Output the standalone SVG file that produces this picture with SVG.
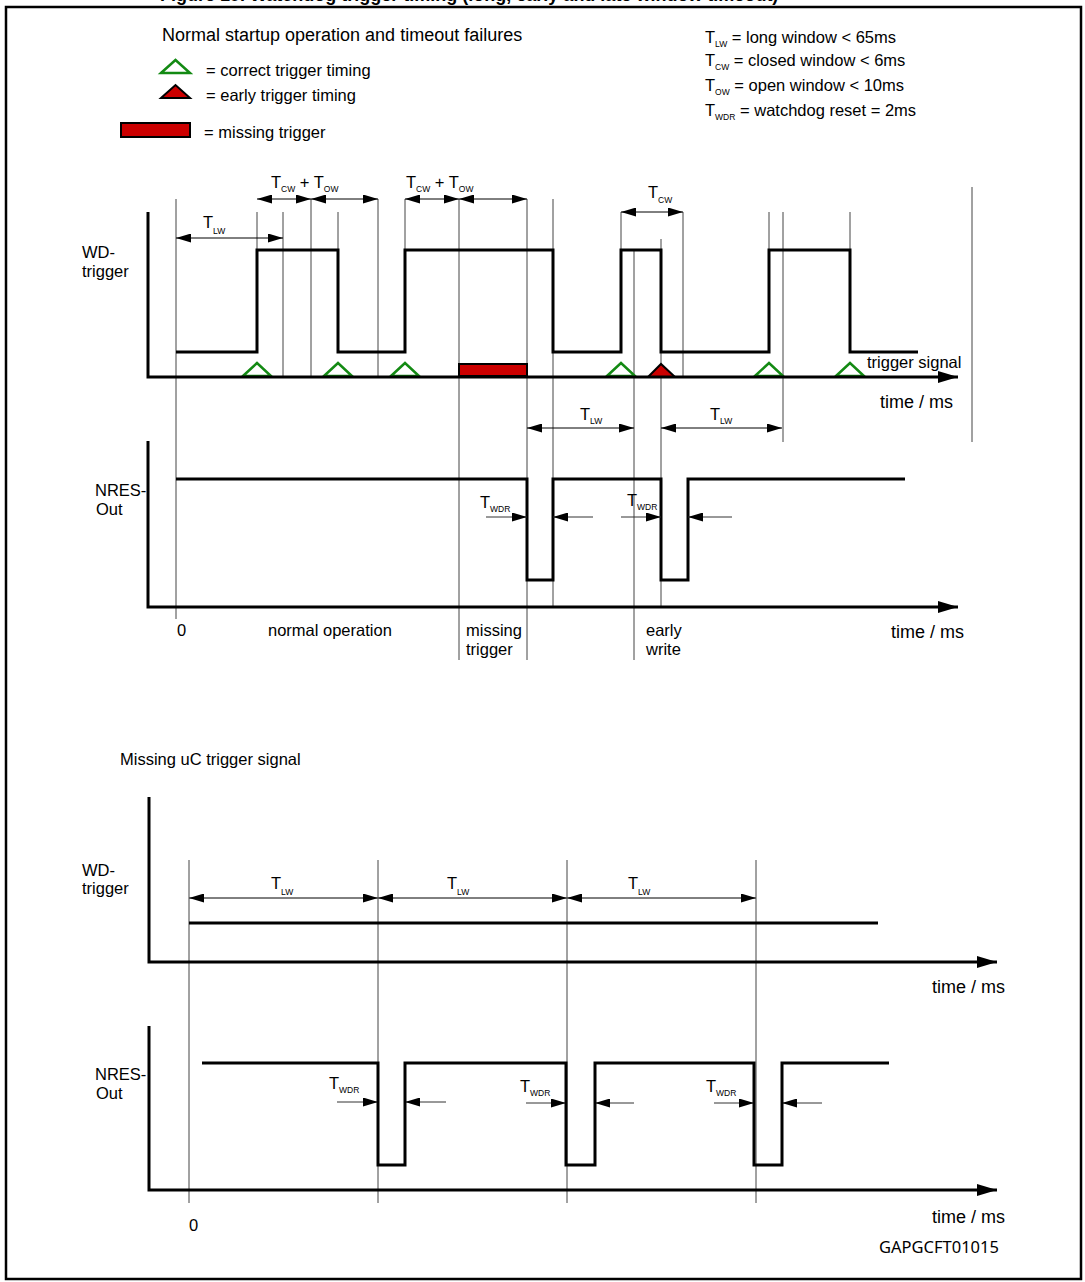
<svg xmlns="http://www.w3.org/2000/svg" width="1085" height="1282" viewBox="0 0 1085 1282">
<style>
text{font-family:"Liberation Sans",Arial,sans-serif;fill:#000}
.t{font-size:16.5px}
.big{font-size:18px}
.sub{font-size:8.5px}
.tm{font-size:18px}
.id{font-family:"Noto Sans","Liberation Sans",sans-serif;font-size:16.5px}
.ttl{font-size:18px;font-weight:bold}
.wave{fill:none;stroke:#000;stroke-width:3}
.axis{fill:none;stroke:#000;stroke-width:3;marker-end:url(#ax)}
.thin{stroke:#444;stroke-width:1}
.dim{stroke:#000;stroke-width:1;marker-start:url(#ah);marker-end:url(#ah)}
.one{stroke:#333;stroke-width:1;marker-end:url(#ah)}
.ok{fill:#fff;stroke:#138a13;stroke-width:2.5}
.early{fill:#cc0000;stroke:#000;stroke-width:2}
.miss{fill:#cc0000;stroke:#000;stroke-width:2}
</style>
<defs>
<marker id="ah" viewBox="0 0 15 9" refX="15" refY="4.5" markerWidth="15" markerHeight="9" markerUnits="userSpaceOnUse" orient="auto-start-reverse"><path d="M0,0 L15,4.5 L0,9 Z" fill="#000"/></marker>
<marker id="ax" viewBox="0 0 20 12" refX="20" refY="6" markerWidth="20" markerHeight="12" markerUnits="userSpaceOnUse" orient="auto"><path d="M0,0 L20,6 L0,12 Z" fill="#000"/></marker>
</defs>
<rect width="1085" height="1282" fill="#fff"/>
<text class="ttl" x="160" y="1">Figure 19. Watchdog trigger timing (long, early and late window timeout)</text>
<rect x="6" y="7" width="1075" height="1272" fill="none" stroke="#000" stroke-width="2.5"/>

<g id="legend">
<text class="big" x="162" y="41">Normal startup operation and timeout failures</text>
<polygon class="ok" points="161,73 175.5,60 190,73"/>
<text class="t" x="206" y="76">= correct trigger timing</text>
<polygon class="early" points="161,98 175.5,85 190,98" stroke-width="2.5"/>
<text class="t" x="206" y="101">= early trigger timing</text>
<rect class="miss" x="121" y="123" width="69" height="14" stroke-width="2.5"/>
<text class="t" x="204" y="138">= missing trigger</text>
</g>

<g id="definitions">
<text class="t" x="705" y="43">T<tspan class="sub" dy="4">LW</tspan><tspan dy="-4"> =  long window &lt; 65ms</tspan></text>
<text class="t" x="705" y="66">T<tspan class="sub" dy="4">CW</tspan><tspan dy="-4"> = closed window &lt; 6ms</tspan></text>
<text class="t" x="705" y="91">T<tspan class="sub" dy="4">OW</tspan><tspan dy="-4"> = open window &lt; 10ms</tspan></text>
<text class="t" x="705" y="116">T<tspan class="sub" dy="4">WDR</tspan><tspan dy="-4">  = watchdog reset = 2ms</tspan></text>
</g>

<g id="grid-top">
<line class="thin" x1="176" y1="199" x2="176" y2="619"/>
<line class="thin" x1="257" y1="212" x2="257" y2="250"/>
<line class="thin" x1="283" y1="212" x2="283" y2="377"/>
<line class="thin" x1="311" y1="199" x2="311" y2="377"/>
<line class="thin" x1="338" y1="212" x2="338" y2="250"/>
<line class="thin" x1="378" y1="199" x2="378" y2="377"/>
<line class="thin" x1="405" y1="199" x2="405" y2="250"/>
<line class="thin" x1="459" y1="199" x2="459" y2="660"/>
<line class="thin" x1="527" y1="199" x2="527" y2="660"/>
<line class="thin" x1="553" y1="199" x2="553" y2="607"/>
<line class="thin" x1="621" y1="212" x2="621" y2="250"/>
<line class="thin" x1="634" y1="250" x2="634" y2="660"/>
<line class="thin" x1="661" y1="239" x2="661" y2="607"/>
<line class="thin" x1="683" y1="212" x2="683" y2="377"/>
<line class="thin" x1="769" y1="212" x2="769" y2="250"/>
<line class="thin" x1="783" y1="212" x2="783" y2="442"/>
<line class="thin" x1="850" y1="212" x2="850" y2="250"/>
<line class="thin" x1="972" y1="187" x2="972" y2="442"/>
</g>

<g id="wd-trigger-top">
<text class="t" x="82" y="258">WD-</text>
<text class="t" x="82" y="277">trigger</text>
<path class="wave" d="M176,352 H257 V250 H338 V352 H405 V250 H553 V352 H621 V250 H661 V352 H769 V250 H850 V352 H918"/>
<polygon class="ok" points="243,376 257,363 271,376"/>
<polygon class="ok" points="324,376 338,363 352,376"/>
<polygon class="ok" points="391,376 405,363 419,376"/>
<polygon class="ok" points="607,376 621,363 635,376"/>
<polygon class="ok" points="755,376 769,363 783,376"/>
<polygon class="ok" points="836,376 850,363 864,376"/>
<polygon class="early" points="648,377 661,364 675,377"/>
<rect class="miss" x="459" y="364" width="68" height="12"/>
<path class="axis" d="M148,212 V377 H958"/>
<text class="t" x="867" y="368">trigger signal</text>
<text class="tm" x="880" y="408">time / ms</text>
</g>

<g id="nres-top">
<text class="t" x="95" y="496">NRES-</text>
<text class="t" x="96" y="515">Out</text>
<path class="wave" d="M176,479 H527 V580 H553 V479 H661 V580 H688 V479 H905"/>
<path class="axis" d="M148,441 V607 H958"/>
<text class="t" x="177" y="636">0</text>
<text class="t" x="268" y="636">normal operation</text>
<text class="t" x="466" y="636">missing</text>
<text class="t" x="466" y="655">trigger</text>
<text class="t" x="646" y="636">early</text>
<text class="t" x="646" y="655">write</text>
<text class="tm" x="891" y="638">time / ms</text>
</g>

<g id="connectors">
<line class="dim" x1="176" y1="238" x2="283" y2="238"/>
<line class="dim" x1="257" y1="199" x2="311" y2="199"/>
<line class="dim" x1="311" y1="199" x2="378" y2="199"/>
<line class="dim" x1="405" y1="199" x2="459" y2="199"/>
<line class="dim" x1="459" y1="199" x2="527" y2="199"/>
<line class="dim" x1="621" y1="212" x2="683" y2="212"/>
<line class="dim" x1="527" y1="428" x2="634" y2="428"/>
<line class="dim" x1="661" y1="428" x2="782" y2="428"/>
<line class="one" x1="486" y1="517" x2="527" y2="517"/>
<line class="one" x1="593" y1="517" x2="553" y2="517"/>
<line class="one" x1="621" y1="517" x2="661" y2="517"/>
<line class="one" x1="732" y1="517" x2="688" y2="517"/>
<line class="dim" x1="189" y1="898" x2="378" y2="898"/>
<line class="dim" x1="378" y1="898" x2="567" y2="898"/>
<line class="dim" x1="567" y1="898" x2="756" y2="898"/>
<line class="one" x1="337" y1="1102" x2="378" y2="1102"/>
<line class="one" x1="446" y1="1102" x2="405" y2="1102"/>
<line class="one" x1="526" y1="1103" x2="566" y2="1103"/>
<line class="one" x1="634" y1="1103" x2="595" y2="1103"/>
<line class="one" x1="714" y1="1103" x2="754" y2="1103"/>
<line class="one" x1="822" y1="1103" x2="782" y2="1103"/>
</g>

<g id="labels-dim">
<text class="t" x="203" y="228">T<tspan class="sub" dy="6">LW</tspan></text>
<text class="t" x="271" y="188">T<tspan class="sub" dy="4">CW</tspan><tspan dy="-4"> + T</tspan><tspan class="sub" dy="4">OW</tspan></text>
<text class="t" x="406" y="188">T<tspan class="sub" dy="4">CW</tspan><tspan dy="-4"> + T</tspan><tspan class="sub" dy="4">OW</tspan></text>
<text class="t" x="648" y="198">T<tspan class="sub" dy="5">CW</tspan></text>
<text class="t" x="580" y="420">T<tspan class="sub" dy="4">LW</tspan></text>
<text class="t" x="710" y="420">T<tspan class="sub" dy="4">LW</tspan></text>
<text class="t" x="480" y="508">T<tspan class="sub" dy="4">WDR</tspan></text>
<text class="t" x="627" y="506">T<tspan class="sub" dy="4">WDR</tspan></text>
<text class="t" x="271" y="889">T<tspan class="sub" dy="6">LW</tspan></text>
<text class="t" x="447" y="889">T<tspan class="sub" dy="6">LW</tspan></text>
<text class="t" x="628" y="889">T<tspan class="sub" dy="6">LW</tspan></text>
<text class="t" x="329" y="1089">T<tspan class="sub" dy="4">WDR</tspan></text>
<text class="t" x="520" y="1092">T<tspan class="sub" dy="4">WDR</tspan></text>
<text class="t" x="706" y="1092">T<tspan class="sub" dy="4">WDR</tspan></text>
</g>

<g id="grid-bottom">
<line class="thin" x1="189" y1="860" x2="189" y2="1203"/>
<line class="thin" x1="378" y1="860" x2="378" y2="1203"/>
<line class="thin" x1="567" y1="860" x2="567" y2="1203"/>
<line class="thin" x1="756" y1="860" x2="756" y2="1203"/>
</g>

<g id="wd-trigger-bottom">
<text class="t" x="120" y="765">Missing uC trigger signal</text>
<text class="t" x="82" y="876">WD-</text>
<text class="t" x="82" y="894">trigger</text>
<line x1="189" y1="923" x2="878" y2="923" stroke="#000" stroke-width="3"/>
<path class="axis" d="M149,797 V962 H997"/>
<text class="tm" x="932" y="993">time / ms</text>
</g>

<g id="nres-bottom">
<text class="t" x="95" y="1080">NRES-</text>
<text class="t" x="96" y="1099">Out</text>
<path class="wave" d="M202,1063 H378 V1165 H405 V1063 H566 V1165 H595 V1063 H754 V1165 H782 V1063 H889"/>
<path class="axis" d="M149,1026 V1190 H997"/>
<text class="t" x="189" y="1231">0</text>
<text class="tm" x="932" y="1223">time / ms</text>
<text class="id" x="879" y="1253">GAPGCFT01015</text>
</g>
</svg>
